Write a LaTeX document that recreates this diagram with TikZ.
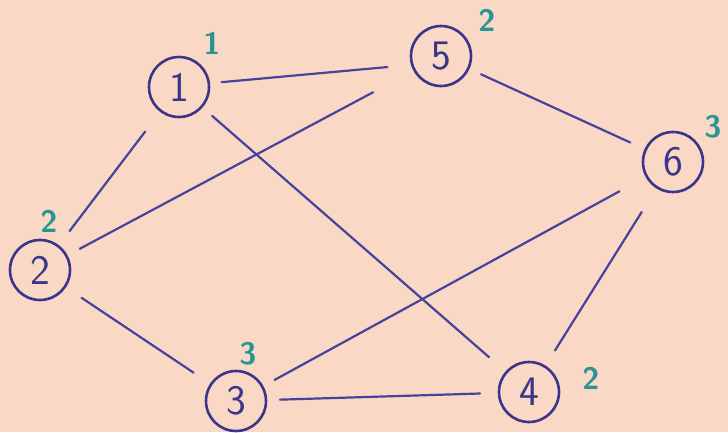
\documentclass[tikz,border=0pt]{standalone}
\usepackage{fontspec}
\definecolor{bgc}{HTML}{F9D8C6}
\definecolor{ink}{HTML}{45449A}
\definecolor{circink}{HTML}{3A3588}
\definecolor{tealc}{HTML}{2A9494}
\begin{document}
\begin{tikzpicture}[x=1pt,y=-1pt,
  vtx/.style={circle,draw=circink,line width=2.6pt,minimum size=60pt,inner sep=0pt,outer sep=0pt,
    text=circink,font=\sffamily\fontsize{42}{42}\selectfont},
  lbl/.style={text=tealc,inner sep=0pt,font=\sffamily\bfseries\fontsize{31}{31}\selectfont},
  edge/.style={draw=ink,line width=2.2pt,line cap=round}]
\fill[bgc] (0,0) rectangle (728,432);
\useasboundingbox (0,0) rectangle (728,432);
\node[vtx] (n1) at (179,87) {1};
\node[vtx] (n5) at (441,56) {5};
\node[vtx] (n6) at (673,162) {6};
\node[vtx] (n2) at (40,270) {2};
\node[vtx] (n3) at (236,401) {3};
\node[vtx] (n4) at (529,392) {4};
\node[lbl] (l1) at (212,43) {1};
\node[lbl] (l5) at (487,20) {2};
\node[lbl] (l6) at (713,127) {3};
\node[lbl] (l2) at (49,221) {2};
\node[lbl] (l3) at (248,354) {3};
\node[lbl] (l4) at (591,378) {2};
\draw[edge,shorten <=13pt,shorten >=25pt] (n1.7) -- (n5.197);
\draw[edge,shorten <=14pt,shorten >=23pt] (n1) -- (n4);
\draw[edge,shorten <=26pt,shorten >=19pt] (n1) -- (n2);
\draw[edge,shorten <=15pt,shorten >=47pt] (n2) -- (n5);
\draw[edge,shorten <=20pt,shorten >=21pt] (n2) -- (n3);
\draw[edge,shorten <=14pt,shorten >=19pt] (n3) -- (n4);
\draw[edge,shorten <=14pt,shorten >=31pt] (n3) -- (n6);
\draw[edge,shorten <=14pt,shorten >=17pt] (n5) -- (n6);
\draw[edge,shorten <=19pt,shorten >=29pt] (n4) -- (n6);
\end{tikzpicture}
\end{document}
